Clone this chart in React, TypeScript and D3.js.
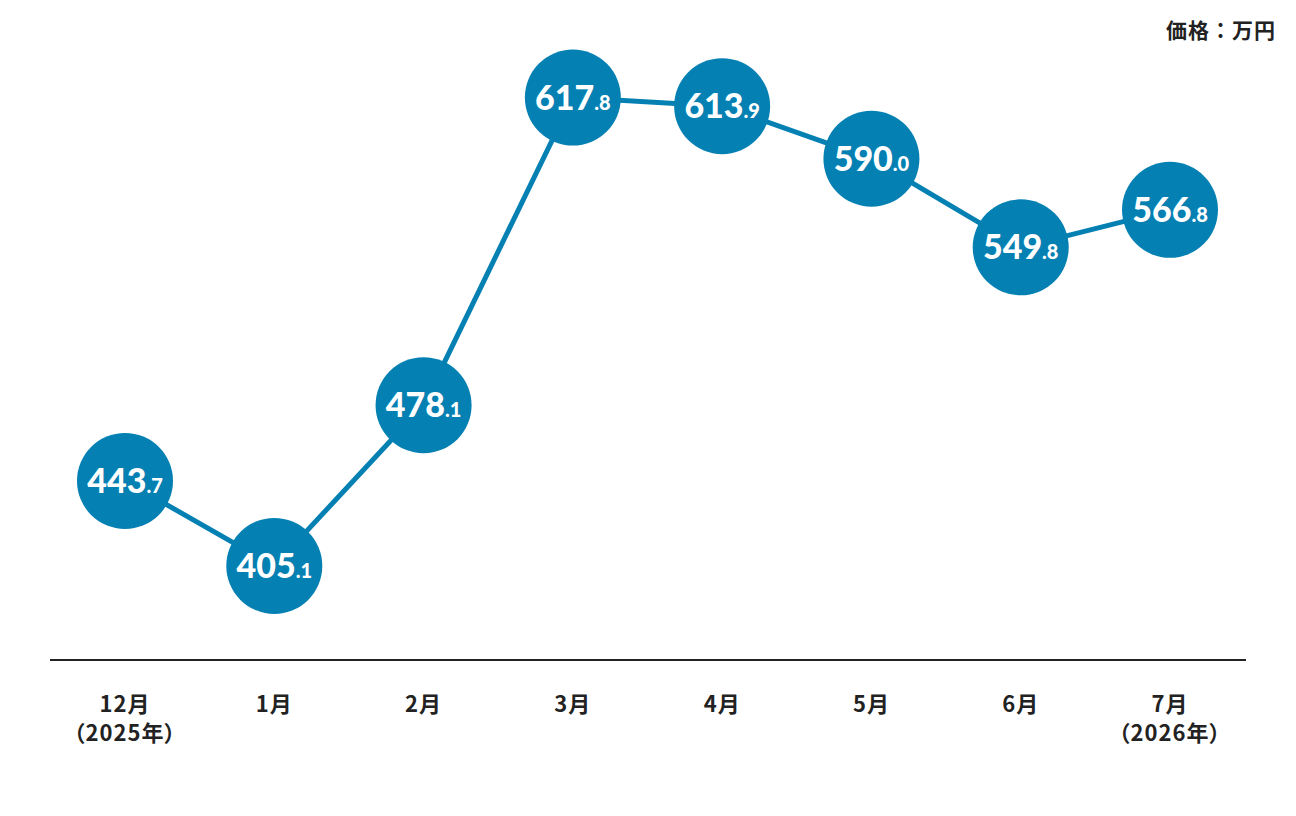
import React, { useEffect, useRef } from "react";
import * as d3 from "d3";

const months = ["12月", "1月", "2月", "3月", "4月", "5月", "6月", "7月"];
const years = ["（2025年）", "", "", "", "", "", "", "（2026年）"];
const prices = [443.7, 405.1, 478.1, 617.8, 613.9, 590.0, 549.8, 566.8];
const unitLabel = "価格：万円";

const App = () => {
  const ref = useRef<SVGSVGElement>(null);

  useEffect(() => {
    const blue = "#0580b3";
    const svg = d3.select(ref.current);
    svg.selectAll("*").remove();

    // x: month positions, y: linear price scale
    const x = d3
      .scalePoint<number>()
      .domain(d3.range(months.length))
      .range([125, 1170]);
    const y = d3.scaleLinear().domain([362.4, 662.1]).range([660, 0]);

    // baseline
    svg
      .append("line")
      .attr("x1", 50)
      .attr("x2", 1246)
      .attr("y1", 660)
      .attr("y2", 660)
      .attr("stroke", "#222")
      .attr("stroke-width", 2);

    // month labels
    const jp = "'Noto Sans CJK JP', 'Noto Sans', sans-serif";
    const labels = svg
      .selectAll("g.month")
      .data(months)
      .enter()
      .append("g")
      .attr("class", "month")
      .attr("transform", (d, i) => "translate(" + x(i) + ",0)");
    labels
      .append("text")
      .attr("y", 712)
      .attr("text-anchor", "middle")
      .attr("font-family", jp)
      .attr("font-weight", 700)
      .attr("font-size", 22)
      .attr("letter-spacing", 1)
      .attr("fill", "#222")
      .style("font-feature-settings", "'palt'")
      .text((d) => d);
    labels
      .append("text")
      .attr("y", 741)
      .attr("text-anchor", "middle")
      .attr("font-family", jp)
      .attr("font-weight", 700)
      .attr("font-size", 22)
      .attr("letter-spacing", 1)
      .attr("fill", "#222")
      .style("font-feature-settings", "'palt'")
      .text((d, i) => years[i]);

    // unit
    svg
      .append("text")
      .attr("x", 1276)
      .attr("y", 38)
      .attr("text-anchor", "end")
      .attr("font-family", jp)
      .attr("font-weight", 700)
      .attr("font-size", 21)
      .attr("letter-spacing", 1)
      .attr("fill", "#222")
      .text(unitLabel);

    // line
    const line = d3
      .line<number>()
      .x((d, i) => x(i) as number)
      .y((d) => y(d));
    svg
      .append("path")
      .datum(prices)
      .attr("d", line)
      .attr("fill", "none")
      .attr("stroke", blue)
      .attr("stroke-width", 5);

    // bubbles
    const dots = svg
      .selectAll("g.dot")
      .data(prices)
      .enter()
      .append("g")
      .attr("class", "dot")
      .attr("transform", (d, i) => "translate(" + x(i) + "," + y(d) + ")");
    dots.append("circle").attr("r", 48).attr("fill", blue);

    const txt = dots
      .append("text")
      .attr("y", 12)
      .attr("text-anchor", "middle")
      .attr("font-family", "Lato, 'Open Sans', sans-serif")
      .attr("font-weight", 900)
      .attr("fill", "#fff");
    txt
      .append("tspan")
      .attr("font-size", 34)
      .text((d) => Math.floor(d).toString());
    txt
      .append("tspan")
      .attr("font-size", 20)
      .text((d) => "." + d.toFixed(1).split(".")[1]);
  }, []);

  return (
    <svg
      ref={ref}
      width={1296}
      height={816}
      style={{ position: "absolute", left: 0, top: 0, background: "#fff" }}
    />
  );
};

export default App;
